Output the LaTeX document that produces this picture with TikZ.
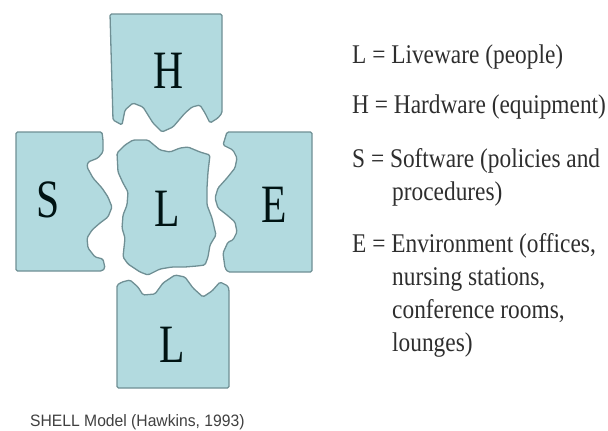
\documentclass[tikz,border=0pt]{standalone}
\usepackage{fontspec}
\usepackage{tikz}
\setmainfont{Liberation Serif}
\newfontfamily\letterfont[FakeStretch=0.77]{Liberation Serif}
\newfontfamily\keyfont[FakeStretch=0.865]{Liberation Serif}
\newfontfamily\captionfont[FakeStretch=0.95]{Liberation Sans}
\definecolor{piecefill}{HTML}{B2DADF}
\definecolor{pieceline}{HTML}{6F8F94}
\definecolor{keytext}{HTML}{2E2E2E}
\tikzset{
  piece/.style={fill=piecefill,draw=pieceline,line width=1.3bp,line join=round,rounded corners=1.5bp},
  letter/.style={inner sep=0pt,text=black!85!teal,font=\letterfont\fontsize{54bp}{54bp}\selectfont},
  keyline/.style={anchor=base west,inner sep=0pt,text=keytext,font=\keyfont\fontsize{27bp}{33bp}\selectfont}
}

\begin{document}
\begin{tikzpicture}[x=1bp,y=-1bp]
\useasboundingbox (0,0) rectangle (608,430);
% the five pieces
\draw[piece] (110,14) -- (222,14) -- (222,113) -- (218,118) -- (210,123) -- (205,113) -- (200,105)
  -- (192,107) -- (185,113) -- (173,127) -- (162,132) -- (153,123) -- (143,107) -- (133,103)
  -- (125,110) -- (122,125) -- (113,120) -- cycle;
\draw[piece] (16,132) -- (102,132) -- (103,140) -- (103,152) -- (98,158) -- (88,162) -- (87,167)
  -- (93,178) -- (102,188) -- (108,197) -- (112,207) -- (108,217) -- (100,223) -- (92,230)
  -- (87,238) -- (88,248) -- (95,257) -- (103,259) -- (105,268) -- (102,271) -- (16,271) -- cycle;
\draw[piece] (227,132) -- (312,132) -- (312,272) -- (228,272) -- (225,268) -- (223,253) -- (228,242)
  -- (233,240) -- (237,232) -- (235,222) -- (227,215) -- (218,208) -- (215,198) -- (218,188)
  -- (227,178) -- (235,168) -- (237,158) -- (233,150) -- (223,145) -- cycle;
\draw[piece] (117,285) -- (122,282) -- (130,280) -- (138,287) -- (143,295) -- (155,294) -- (163,283)
  -- (175,275) -- (185,277) -- (193,288) -- (203,297) -- (212,291) -- (220,282) -- (228,286)
  -- (229,290) -- (229,388) -- (117,388) -- cycle;
\draw[piece] (117,153) -- (125,145) -- (133,140) -- (148,140) -- (160,150) -- (170,152) -- (180,148)
  -- (188,147) -- (200,152) -- (210,155) -- (208,172) -- (207,188) -- (207,205) -- (212,218)
  -- (216,235) -- (210,245) -- (208,257) -- (205,265) -- (197,266) -- (185,267) -- (172,267)
  -- (160,269) -- (148,275) -- (140,272) -- (128,264) -- (123,257) -- (125,238) -- (122,228)
  -- (123,215) -- (127,205) -- (128,192) -- (123,183) -- (118,172) -- cycle;
% letters
\node[letter] (hard) at (169,71) {H};
\node[letter] (soft) at (48,200) {S};
\node[letter] (live) at (167,209) {L};
\node[letter] (env) at (274,205) {E};
\node[letter] (live2) at (172,345) {L};
% key
\node[keyline] (keyL) at (352,63) {L = Liveware (people)};
\node[keyline] (keyH) at (352,113) {H = Hardware (equipment)};
\node[keyline] (keyS) at (352,167) {S = Software (policies and};
\node[keyline] (keyS2) at (392,200) {procedures)};
\node[keyline] (keyE) at (352,252) {E = Environment (offices,};
\node[keyline] (keyE2) at (392,285) {nursing stations,};
\node[keyline] (keyE3) at (392,318) {conference rooms,};
\node[keyline] (keyE4) at (392,351) {lounges)};
\node[anchor=base west,inner sep=0pt,text=black!75,font=\captionfont\fontsize{16.5bp}{18bp}\selectfont]
  (source) at (30,426) {SHELL Model (Hawkins, 1993)};
\end{tikzpicture}
\end{document}
